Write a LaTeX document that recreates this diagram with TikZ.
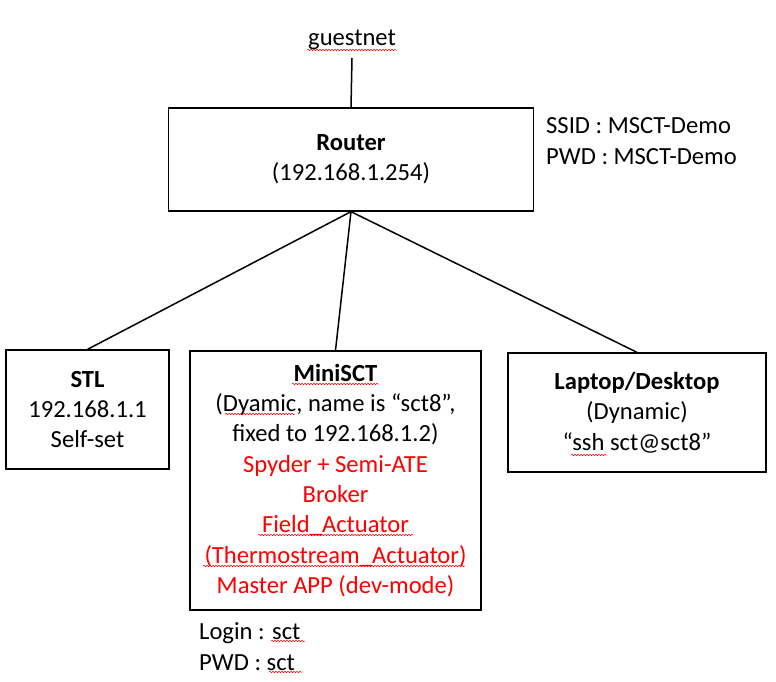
\documentclass[tikz,border=0pt]{standalone}
\usepackage{fontspec}
\setmainfont{Carlito}
\usetikzlibrary{decorations.pathmorphing}
\definecolor{pptred}{RGB}{255,0,0}
\tikzset{
  box/.style={draw, line width=1.3pt, rectangle, inner sep=0pt, align=center,
    font=\fontsize{24.6}{30.3}\selectfont},
  plain/.style={inner sep=0pt, font=\fontsize{24.6}{30.3}\selectfont},
  link/.style={line width=1.5pt},
  squig/.style={pptred, line width=0.5pt, decorate,
    decoration={snake, segment length=3pt, amplitude=0.8pt}}
}
\begin{document}
\begin{tikzpicture}[x=1pt,y=-1pt]
\useasboundingbox (0,0) rectangle (776,681);
\fill[white] (0,0) rectangle (776,681);

\node[plain] (guest) at (352,40) {guestnet};
\coordinate (gtop) at (352,58);

\node[box, minimum width=365pt, minimum height=103pt] (router) at (351,159.5)
  {\textbf{Router}\\(192.168.1.254)};

\node[plain, anchor=west, align=left] (ssid) at (546,141)
  {SSID : MSCT-Demo\\PWD : MSCT-Demo};

\node[box, minimum width=163pt, minimum height=119pt] (stl) at (87.5,409.5)
  {\textbf{STL}\\192.168.1.1\\Self-set};

\node[box, minimum width=291pt, minimum height=259pt] (mini) at (335.5,480.5)
  {\textbf{MiniSCT}\\(Dyamic, name is “sct8”,\\fixed to 192.168.1.2)\\
   \textcolor{pptred}{Spyder + Semi-ATE}\\\textcolor{pptred}{Broker}\\
   \textcolor{pptred}{Field\_Actuator}\\\textcolor{pptred}{(Thermostream\_Actuator)}\\
   \textcolor{pptred}{Master APP (dev-mode)}};

\node[box, minimum width=258pt, minimum height=119pt] (laptop) at (637,412.5)
  {\textbf{Laptop/Desktop}\\(Dynamic)\\“ssh sct@sct8”};

\node[plain, anchor=west, align=left] (login) at (199,646.5)
  {Login : sct\\PWD : sct};

\draw[link] (gtop) -- (router.north);
\draw[link] (router.south) -- (stl.north);
\draw[link] (router.south) -- (mini.north);
\draw[link] (router.south) -- (laptop.north);

% spell-check squiggles
\draw[squig] (307,50) -- (397,50);
\draw[squig] (292,384) -- (379,384);
\draw[squig] (225,414) -- (295,414);
\draw[squig] (258,535) -- (413,535);
\draw[squig] (203,566) -- (465,566);
\draw[squig] (571,455) -- (607,455);
\draw[squig] (271,641) -- (305,641);
\draw[squig] (269,672) -- (302,672);
\end{tikzpicture}
\end{document}
